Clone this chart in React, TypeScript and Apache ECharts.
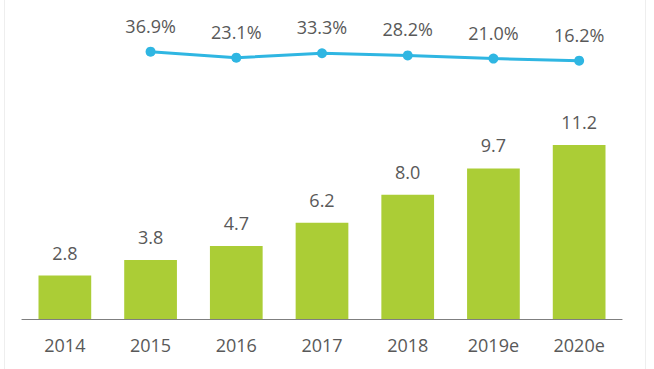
import React, { useEffect, useRef } from "react";
import * as echarts from "echarts";

const categories = ["2014", "2015", "2016", "2017", "2018", "2019e", "2020e"];
const barValues = [2.8, 3.8, 4.7, 6.2, 8.0, 9.7, 11.2];
const growthValues: (number | string)[] = ["-", 36.9, 23.1, 33.3, 28.2, 21.0, 16.2];

const FONT = "'Open Sans', 'Noto Sans', sans-serif";
const TEXT = "#595959";

export default function App() {
  const ref = useRef<HTMLDivElement>(null);
  useEffect(() => {
    if (!ref.current) return;
    const chart = echarts.init(ref.current, undefined, { renderer: "svg" });
    chart.setOption({
      animation: false,
      backgroundColor: "#ffffff",
      textStyle: { fontFamily: FONT },
      graphic: [
        { type: "line", shape: { x1: 4.5, y1: 0, x2: 4.5, y2: 369 }, style: { stroke: "#eeeeee", lineWidth: 1 } },
        { type: "line", shape: { x1: 645.5, y1: 0, x2: 645.5, y2: 369 }, style: { stroke: "#eeeeee", lineWidth: 1 } },
      ],
      grid: [
        { left: 22, right: 32, top: 24, bottom: 50 },
        { left: 22, right: 32, top: 50.3, height: 17.4 },
      ],
      xAxis: [
        {
          type: "category",
          gridIndex: 0,
          data: categories,
          axisLine: { lineStyle: { color: "#7f7f7f", width: 1.2 } },
          axisTick: { show: false },
          axisLabel: { color: TEXT, fontSize: 18, margin: 17, fontFamily: FONT },
        },
        {
          type: "category",
          gridIndex: 1,
          data: categories,
          show: false,
        },
      ],
      yAxis: [
        { type: "value", gridIndex: 0, min: 0, max: 19, show: false },
        { type: "value", gridIndex: 1, min: 0, max: 40, show: false },
      ],
      series: [
        {
          type: "bar",
          xAxisIndex: 0,
          yAxisIndex: 0,
          data: barValues,
          barWidth: "61.5%",
          itemStyle: { color: "#abcd36" },
          label: {
            show: true,
            position: "top",
            distance: 14,
            color: TEXT,
            fontSize: 18,
            fontFamily: FONT,
            formatter: (p: any) => Number(p.value).toFixed(1),
          },
        },
        {
          type: "line",
          xAxisIndex: 1,
          yAxisIndex: 1,
          data: growthValues,
          symbol: "circle",
          symbolSize: 10,
          lineStyle: { color: "#2fb6e2", width: 3 },
          itemStyle: { color: "#2fb6e2" },
          label: {
            show: true,
            position: "top",
            distance: 12,
            color: TEXT,
            fontSize: 18,
            fontFamily: FONT,
            formatter: (p: any) => Number(p.value).toFixed(1) + "%",
          },
        },
      ],
    });
    return () => chart.dispose();
  }, []);
  return (
    <div
      ref={ref}
      style={{ position: "fixed", left: 0, top: 0, width: 654, height: 369 }}
    />
  );
}
